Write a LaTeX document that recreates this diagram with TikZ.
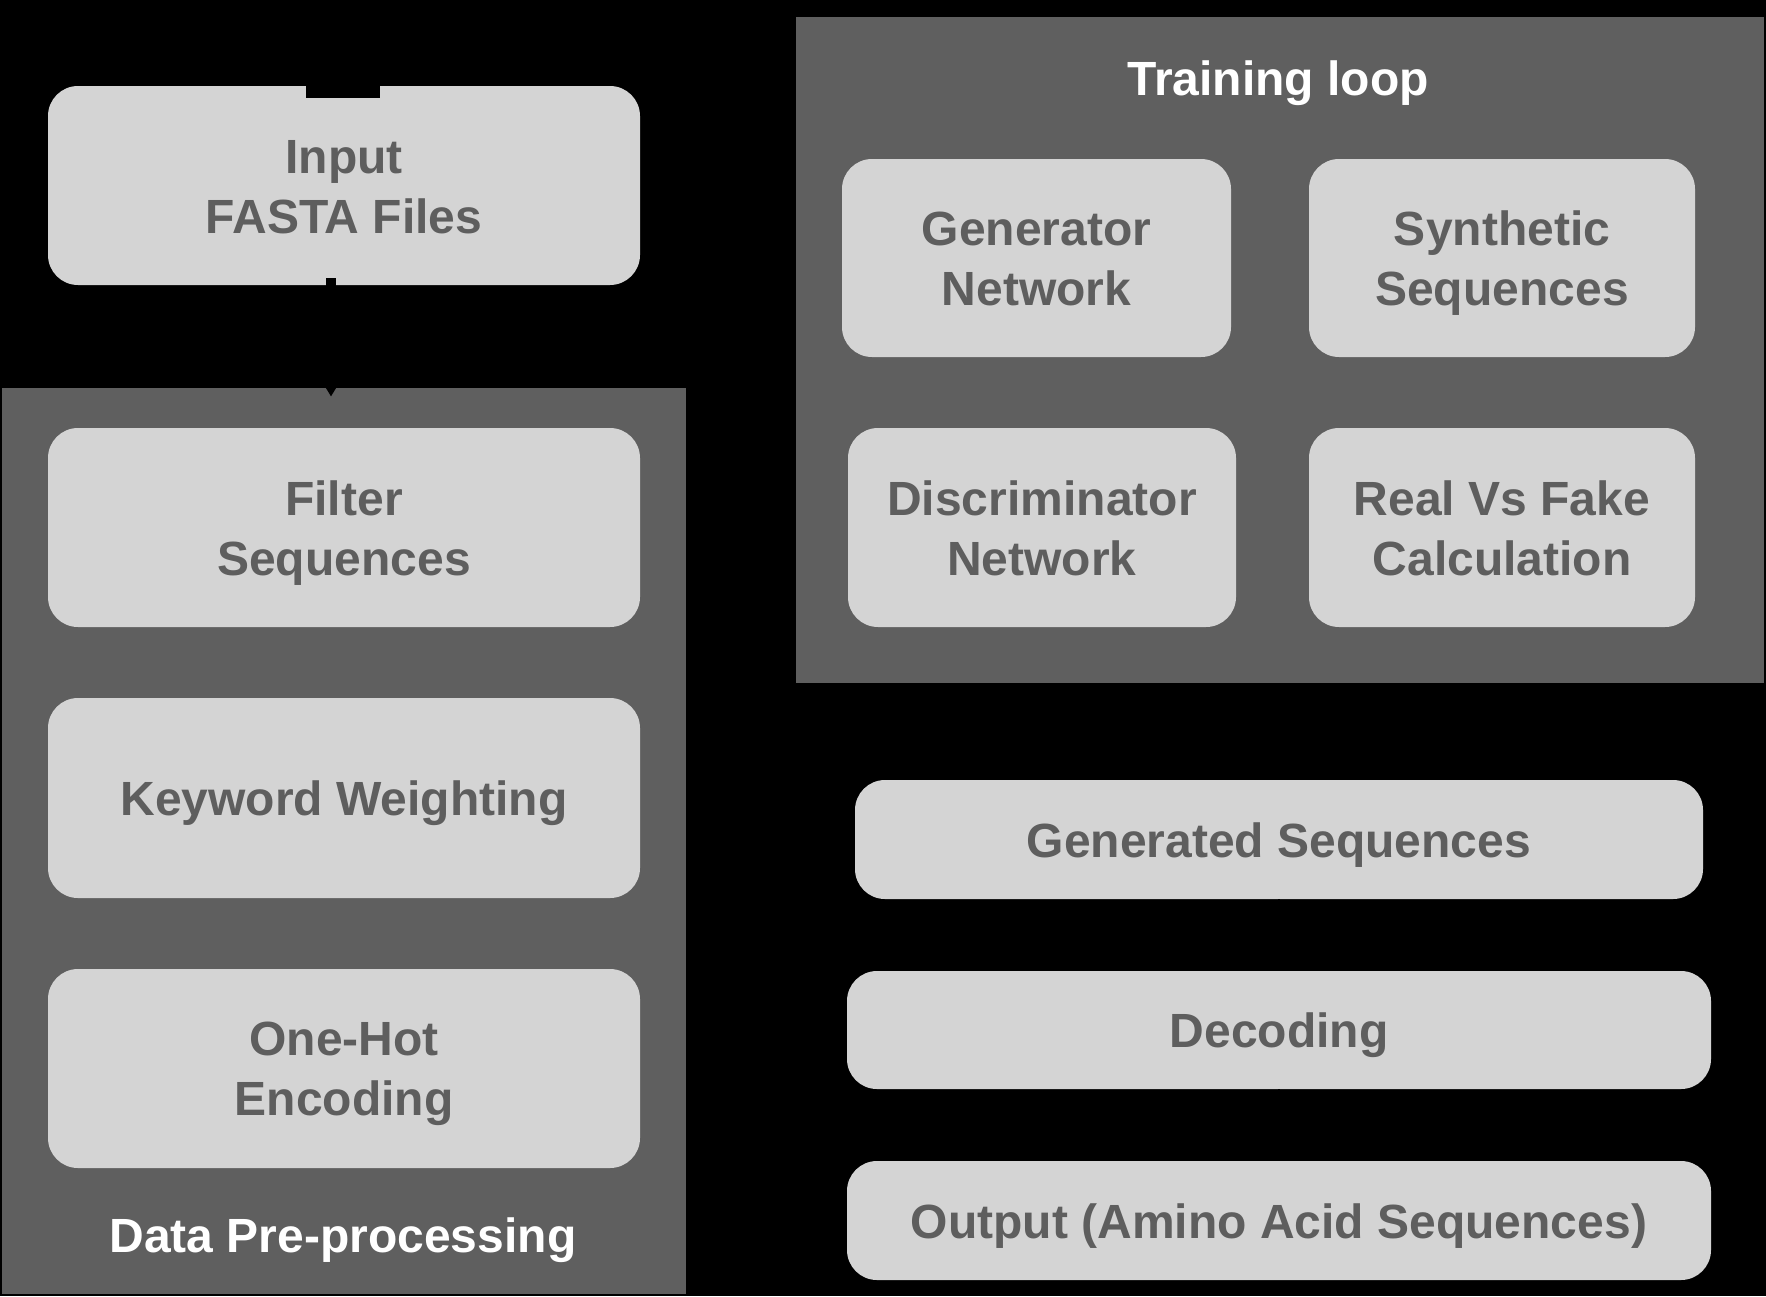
\documentclass[tikz,border=0pt]{standalone}
\usepackage{fontspec}
\setmainfont{Liberation Sans}
\usetikzlibrary{arrows.meta}
\definecolor{boxgray}{HTML}{D4D4D4}
\definecolor{contgray}{HTML}{5F5F5F}
\definecolor{txtgray}{HTML}{5E5E5E}
\newcommand{\mytop}{\rule{0pt}{45pt}}
\newcommand{\mybot}{\rule[-10pt]{0pt}{10pt}}
\begin{document}
\begin{tikzpicture}[x=1pt,y=-1pt,
  stepbox/.style={fill=boxgray, rounded corners=30pt, draw=none, align=center, text=txtgray, font=\fontsize{48}{60}\selectfont\bfseries, inner sep=0pt},
  container/.style={fill=contgray, draw=none, inner sep=0pt},
  titletext/.style={text=white, font=\fontsize{48}{60}\selectfont\bfseries, inner sep=0pt},
  thickarrow/.style={draw=black, line width=10pt, -{Triangle[width=30pt,length=27pt]}},
  thinarrow/.style={draw=black, line width=2pt, -{Triangle[width=12pt,length=12pt]}}]
\fill[black] (0,0) rectangle (1766,1296);
\useasboundingbox (0,0) rectangle (1766,1296);
% containers
\node[container, minimum width=684pt, minimum height=906pt] (pre) at (344,841) {};
\node[container, minimum width=968pt, minimum height=666pt] (train) at (1280,350) {};
\node[titletext] (pretitle) at (343,1240.5) {Data Pre-processing};
\node[titletext] (traintitle) at (1278,83.5) {Training loop};
% left column
\node[stepbox, minimum width=592pt, minimum height=199pt] (in) at (344,185.5) {\mytop Input\\FASTA Files\mybot};
\node[stepbox, minimum width=592pt, minimum height=199pt] (filt) at (344,527.5) {\mytop Filter\\Sequences\mybot};
\node[stepbox, minimum width=592pt, minimum height=200pt] (kw) at (344,798) {\mytop Keyword Weighting\mybot};
\node[stepbox, minimum width=592pt, minimum height=199pt] (oh) at (344,1068.5) {\mytop One-Hot\\Encoding\mybot};
% training loop
\node[stepbox, minimum width=389pt, minimum height=198pt] (genn) at (1036.5,258) {\mytop Generator\\Network\mybot};
\node[stepbox, minimum width=386pt, minimum height=198pt] (syn) at (1502,258) {\mytop Synthetic\\Sequences\mybot};
\node[stepbox, minimum width=388pt, minimum height=199pt] (disc) at (1042,527.5) {\mytop Discriminator\\Network\mybot};
\node[stepbox, minimum width=386pt, minimum height=199pt] (rvf) at (1502,527.5) {\mytop Real Vs Fake\\Calculation\mybot};
% right column
\node[stepbox, minimum width=848pt, minimum height=119pt] (gen) at (1279,839.5) {\mytop Generated Sequences\mybot};
\node[stepbox, minimum width=864pt, minimum height=118pt] (dec) at (1279,1030) {\mytop Decoding\mybot};
\node[stepbox, minimum width=864pt, minimum height=119pt] (out) at (1279,1220.5) {\mytop Output (Amino Acid Sequences)\mybot};
% notch on input box
\fill[black] (306,86) rectangle (380,98);
% connectors
\draw[thickarrow] ([xshift=-13pt,yshift=7pt]in.south) -- ([xshift=-13pt,yshift=-9pt]in.south |- pre.north);
\draw[thinarrow] (train.south -| gen.north) -- (gen.north);
\draw[thinarrow] (gen.south) -- (dec.north);
\draw[thinarrow] (dec.south) -- (out.north);
\end{tikzpicture}
\end{document}
